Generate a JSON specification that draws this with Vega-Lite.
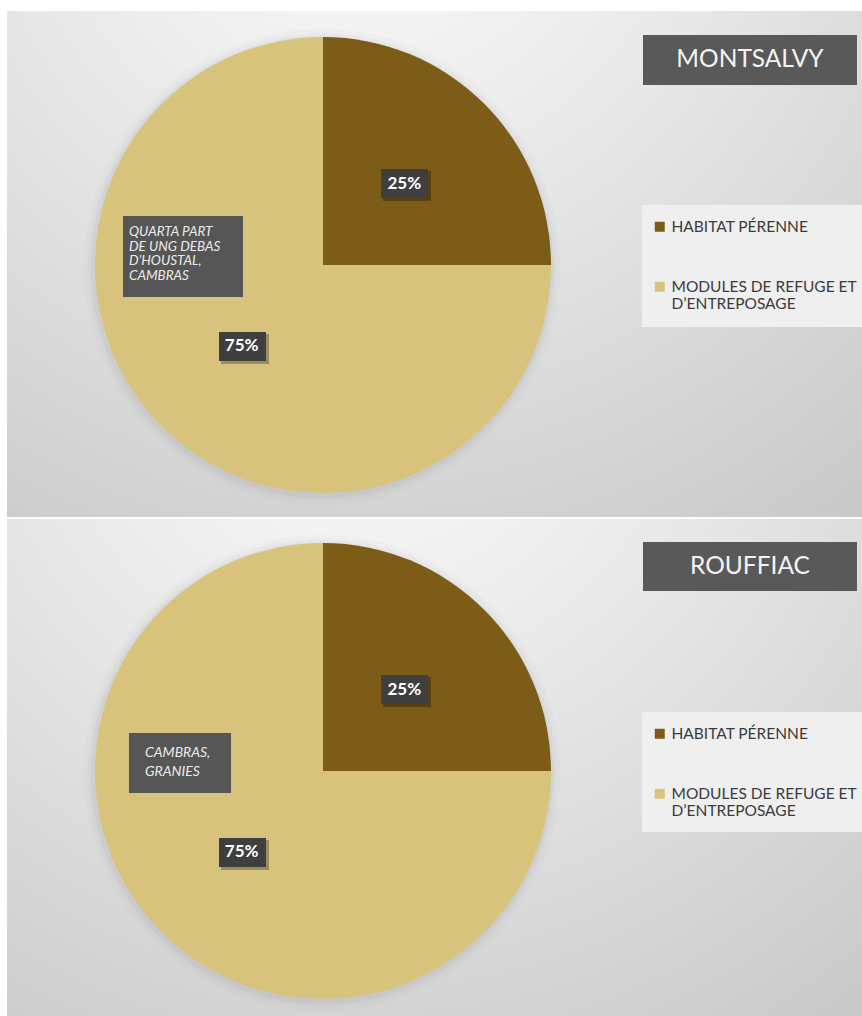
{
  "$schema": "https://vega.github.io/schema/vega-lite/v6.json",
  "background": "white",
  "padding": {"left": 7, "top": 11, "right": 0, "bottom": 0},
  "spacing": 2,
  "config": {
    "view": {"stroke": null},
    "axis": {"disable": true},
    "font": "Lato"
  },
  "datasets": {
    "parts": [
      {"site": "MONTSALVY", "categorie": "HABITAT PÉRENNE", "part": 0.25},
      {"site": "MONTSALVY", "categorie": "MODULES DE REFUGE ET D’ENTREPOSAGE", "part": 0.75},
      {"site": "ROUFFIAC", "categorie": "HABITAT PÉRENNE", "part": 0.25},
      {"site": "ROUFFIAC", "categorie": "MODULES DE REFUGE ET D’ENTREPOSAGE", "part": 0.75}
    ]
  },
  "resolve": {
    "scale": {"x": "independent", "y": "independent", "color": "independent", "theta": "independent"},
    "legend": {"color": "independent"}
  },
  "vconcat": [
    {
      "width": 855,
      "height": 506,
      "layer": [
        {
          "data": {"values": [{}]},
          "mark": {"type": "rect", "color": {"gradient": "radial", "x1": 0.42, "y1": 0.02, "x2": 0.42, "y2": 0.02, "r1": 0, "r2": 1.0, "stops": [{"offset": 0, "color": "#fdfdfd"}, {"offset": 0.45, "color": "#e6e6e6"}, {"offset": 1, "color": "#c6c6c6"}]}},
          "encoding": {
            "x": {"datum": 0, "type": "quantitative", "scale": {"domain": [0, 855], "nice": false, "zero": false}, "axis": null},
            "x2": {"datum": 855},
            "y": {"datum": 0, "type": "quantitative", "scale": {"domain": [0, 506], "nice": false, "zero": false, "reverse": true}, "axis": null},
            "y2": {"datum": 506}
          }
        },
        {
          "data": {"values": [{}]},
          "mark": {"type": "arc", "theta": 0, "theta2": 6.2832, "outerRadius": 238, "color": "#80808f", "opacity": 0.03},
          "encoding": {
            "x": {"datum": 315, "type": "quantitative", "scale": {"domain": [0, 855], "nice": false, "zero": false}, "axis": null},
            "y": {"datum": 256, "type": "quantitative", "scale": {"domain": [0, 506], "nice": false, "zero": false, "reverse": true}, "axis": null}
          }
        },
        {
          "data": {"values": [{}]},
          "mark": {"type": "arc", "theta": 0, "theta2": 6.2832, "outerRadius": 234, "color": "#80808f", "opacity": 0.05},
          "encoding": {
            "x": {"datum": 315, "type": "quantitative", "scale": {"domain": [0, 855], "nice": false, "zero": false}, "axis": null},
            "y": {"datum": 256, "type": "quantitative", "scale": {"domain": [0, 506], "nice": false, "zero": false, "reverse": true}, "axis": null}
          }
        },
        {
          "data": {"values": [{}]},
          "mark": {"type": "arc", "theta": 0, "theta2": 6.2832, "outerRadius": 231, "color": "#80808f", "opacity": 0.08},
          "encoding": {
            "x": {"datum": 315, "type": "quantitative", "scale": {"domain": [0, 855], "nice": false, "zero": false}, "axis": null},
            "y": {"datum": 256, "type": "quantitative", "scale": {"domain": [0, 506], "nice": false, "zero": false, "reverse": true}, "axis": null}
          }
        },
        {
          "data": {"values": [{}]},
          "mark": {"type": "rect", "color": "#efefef"},
          "encoding": {
            "x": {"datum": 635, "type": "quantitative", "scale": {"domain": [0, 855], "nice": false, "zero": false}, "axis": null},
            "x2": {"datum": 855},
            "y": {"datum": 194, "type": "quantitative", "scale": {"domain": [0, 506], "nice": false, "zero": false, "reverse": true}, "axis": null},
            "y2": {"datum": 316}
          }
        },
        {
          "data": {"name": "parts"},
          "transform": [{"filter": "datum.site == 'MONTSALVY'"}],
          "mark": {"type": "arc", "outerRadius": 228, "stroke": null},
          "encoding": {
            "x": {"datum": 316, "type": "quantitative", "scale": {"domain": [0, 855], "nice": false, "zero": false}, "axis": null},
            "y": {"datum": 254, "type": "quantitative", "scale": {"domain": [0, 506], "nice": false, "zero": false, "reverse": true}, "axis": null},
            "theta": {"field": "part", "type": "quantitative", "stack": true},
            "order": {"field": "categorie", "sort": "ascending"},
            "color": {
              "field": "categorie", "type": "nominal",
              "scale": {"domain": ["HABITAT PÉRENNE", "MODULES DE REFUGE ET D’ENTREPOSAGE"], "range": ["#7d5c17", "#d8c37c"]},
              "legend": {
                "orient": "none", "legendX": 635, "legendY": 198, "title": null,
                "padding": 10, "symbolType": "square", "symbolSize": 100,
                "symbolStrokeWidth": 0, "labelFont": "Lato", "labelFontSize": 15.5, "labelColor": "#3b3b3b",
                "rowPadding": 43, "labelOffset": 4, "labelLimit": 300,
                "labelExpr": "datum.label == 'HABITAT PÉRENNE' ? datum.label : ['MODULES DE REFUGE ET', 'D’ENTREPOSAGE']",
                "encode": {"labels": {"update": {"lineHeight": {"value": 21}}}}
              }
            }
          }
        },
        {
          "data": {"values": [{}]},
          "mark": {"type": "rect", "color": "#000000", "opacity": 0.28},
          "encoding": {
            "x": {"datum": 376, "type": "quantitative", "scale": {"domain": [0, 855], "nice": false, "zero": false}, "axis": null},
            "x2": {"datum": 424},
            "y": {"datum": 160, "type": "quantitative", "scale": {"domain": [0, 506], "nice": false, "zero": false, "reverse": true}, "axis": null},
            "y2": {"datum": 190}
          }
        },
        {
          "data": {"values": [{}]},
          "mark": {"type": "rect", "color": "#3f3f3f"},
          "encoding": {
            "x": {"datum": 374, "type": "quantitative", "scale": {"domain": [0, 855], "nice": false, "zero": false}, "axis": null},
            "x2": {"datum": 421},
            "y": {"datum": 158, "type": "quantitative", "scale": {"domain": [0, 506], "nice": false, "zero": false, "reverse": true}, "axis": null},
            "y2": {"datum": 187}
          }
        },
        {
          "data": {"values": [{}]},
          "mark": {"type": "rect", "color": "#000000", "opacity": 0.28},
          "encoding": {
            "x": {"datum": 214, "type": "quantitative", "scale": {"domain": [0, 855], "nice": false, "zero": false}, "axis": null},
            "x2": {"datum": 262},
            "y": {"datum": 323, "type": "quantitative", "scale": {"domain": [0, 506], "nice": false, "zero": false, "reverse": true}, "axis": null},
            "y2": {"datum": 353}
          }
        },
        {
          "data": {"values": [{}]},
          "mark": {"type": "rect", "color": "#3f3f3f"},
          "encoding": {
            "x": {"datum": 212, "type": "quantitative", "scale": {"domain": [0, 855], "nice": false, "zero": false}, "axis": null},
            "x2": {"datum": 259},
            "y": {"datum": 321, "type": "quantitative", "scale": {"domain": [0, 506], "nice": false, "zero": false, "reverse": true}, "axis": null},
            "y2": {"datum": 350}
          }
        },
        {
          "data": {"name": "parts"},
          "transform": [{"filter": "datum.site == 'MONTSALVY'"}],
          "mark": {"type": "text", "radius": 115, "font": "Lato", "fontWeight": "bold", "fontSize": 17, "color": "#ffffff", "baseline": "middle", "align": "center"},
          "encoding": {
            "x": {"datum": 316, "type": "quantitative", "scale": {"domain": [0, 855], "nice": false, "zero": false}, "axis": null},
            "y": {"datum": 254, "type": "quantitative", "scale": {"domain": [0, 506], "nice": false, "zero": false, "reverse": true}, "axis": null},
            "theta": {"field": "part", "type": "quantitative", "stack": true},
            "order": {"field": "categorie", "sort": "ascending"},
            "detail": {"field": "categorie", "type": "nominal"},
            "text": {"field": "part", "type": "quantitative", "format": ".0%"}
          }
        },
        {
          "data": {"values": [{}]},
          "mark": {"type": "rect", "color": "#565656"},
          "encoding": {
            "x": {"datum": 116, "type": "quantitative", "scale": {"domain": [0, 855], "nice": false, "zero": false}, "axis": null},
            "x2": {"datum": 236},
            "y": {"datum": 205, "type": "quantitative", "scale": {"domain": [0, 506], "nice": false, "zero": false, "reverse": true}, "axis": null},
            "y2": {"datum": 286}
          }
        },
        {
          "data": {"values": [{}]},
          "mark": {"type": "text", "text": ["QUARTA PART", "DE UNG DEBAS", "D’HOUSTAL,", "CAMBRAS"], "font": "Lato", "fontStyle": "italic", "fontSize": 13.5, "lineHeight": 14.5, "color": "#ececec", "align": "left", "baseline": "middle"},
          "encoding": {
            "x": {"datum": 122, "type": "quantitative", "scale": {"domain": [0, 855], "nice": false, "zero": false}, "axis": null},
            "y": {"datum": 221, "type": "quantitative", "scale": {"domain": [0, 506], "nice": false, "zero": false, "reverse": true}, "axis": null}
          }
        },
        {
          "data": {"values": [{}]},
          "mark": {"type": "rect", "color": "#595959"},
          "encoding": {
            "x": {"datum": 636, "type": "quantitative", "scale": {"domain": [0, 855], "nice": false, "zero": false}, "axis": null},
            "x2": {"datum": 850},
            "y": {"datum": 24, "type": "quantitative", "scale": {"domain": [0, 506], "nice": false, "zero": false, "reverse": true}, "axis": null},
            "y2": {"datum": 74}
          }
        },
        {
          "data": {"values": [{"site": "MONTSALVY"}]},
          "mark": {"type": "text", "font": "Lato", "fontSize": 24.5, "color": "#f4f4f4", "align": "center", "baseline": "middle"},
          "encoding": {
            "x": {"datum": 743, "type": "quantitative", "scale": {"domain": [0, 855], "nice": false, "zero": false}, "axis": null},
            "y": {"datum": 49, "type": "quantitative", "scale": {"domain": [0, 506], "nice": false, "zero": false, "reverse": true}, "axis": null},
            "text": {"field": "site", "type": "nominal"}
          }
        }
      ]
    },
    {
      "width": 855,
      "height": 497,
      "layer": [
        {
          "data": {"values": [{}]},
          "mark": {"type": "rect", "color": {"gradient": "radial", "x1": 0.42, "y1": 0.02, "x2": 0.42, "y2": 0.02, "r1": 0, "r2": 1.0, "stops": [{"offset": 0, "color": "#fdfdfd"}, {"offset": 0.45, "color": "#e6e6e6"}, {"offset": 1, "color": "#c6c6c6"}]}},
          "encoding": {
            "x": {"datum": 0, "type": "quantitative", "scale": {"domain": [0, 855], "nice": false, "zero": false}, "axis": null},
            "x2": {"datum": 855},
            "y": {"datum": 0, "type": "quantitative", "scale": {"domain": [0, 497], "nice": false, "zero": false, "reverse": true}, "axis": null},
            "y2": {"datum": 497}
          }
        },
        {
          "data": {"values": [{}]},
          "mark": {"type": "arc", "theta": 0, "theta2": 6.2832, "outerRadius": 238, "color": "#80808f", "opacity": 0.03},
          "encoding": {
            "x": {"datum": 315, "type": "quantitative", "scale": {"domain": [0, 855], "nice": false, "zero": false}, "axis": null},
            "y": {"datum": 254, "type": "quantitative", "scale": {"domain": [0, 497], "nice": false, "zero": false, "reverse": true}, "axis": null}
          }
        },
        {
          "data": {"values": [{}]},
          "mark": {"type": "arc", "theta": 0, "theta2": 6.2832, "outerRadius": 234, "color": "#80808f", "opacity": 0.05},
          "encoding": {
            "x": {"datum": 315, "type": "quantitative", "scale": {"domain": [0, 855], "nice": false, "zero": false}, "axis": null},
            "y": {"datum": 254, "type": "quantitative", "scale": {"domain": [0, 497], "nice": false, "zero": false, "reverse": true}, "axis": null}
          }
        },
        {
          "data": {"values": [{}]},
          "mark": {"type": "arc", "theta": 0, "theta2": 6.2832, "outerRadius": 231, "color": "#80808f", "opacity": 0.08},
          "encoding": {
            "x": {"datum": 315, "type": "quantitative", "scale": {"domain": [0, 855], "nice": false, "zero": false}, "axis": null},
            "y": {"datum": 254, "type": "quantitative", "scale": {"domain": [0, 497], "nice": false, "zero": false, "reverse": true}, "axis": null}
          }
        },
        {
          "data": {"values": [{}]},
          "mark": {"type": "rect", "color": "#efefef"},
          "encoding": {
            "x": {"datum": 635, "type": "quantitative", "scale": {"domain": [0, 855], "nice": false, "zero": false}, "axis": null},
            "x2": {"datum": 855},
            "y": {"datum": 193, "type": "quantitative", "scale": {"domain": [0, 497], "nice": false, "zero": false, "reverse": true}, "axis": null},
            "y2": {"datum": 313}
          }
        },
        {
          "data": {"name": "parts"},
          "transform": [{"filter": "datum.site == 'ROUFFIAC'"}],
          "mark": {"type": "arc", "outerRadius": 228, "stroke": null},
          "encoding": {
            "x": {"datum": 316, "type": "quantitative", "scale": {"domain": [0, 855], "nice": false, "zero": false}, "axis": null},
            "y": {"datum": 252, "type": "quantitative", "scale": {"domain": [0, 497], "nice": false, "zero": false, "reverse": true}, "axis": null},
            "theta": {"field": "part", "type": "quantitative", "stack": true},
            "order": {"field": "categorie", "sort": "ascending"},
            "color": {
              "field": "categorie", "type": "nominal",
              "scale": {"domain": ["HABITAT PÉRENNE", "MODULES DE REFUGE ET D’ENTREPOSAGE"], "range": ["#7d5c17", "#d8c37c"]},
              "legend": {
                "orient": "none", "legendX": 635, "legendY": 197, "title": null,
                "padding": 10, "symbolType": "square", "symbolSize": 100,
                "symbolStrokeWidth": 0, "labelFont": "Lato", "labelFontSize": 15.5, "labelColor": "#3b3b3b",
                "rowPadding": 43, "labelOffset": 4, "labelLimit": 300,
                "labelExpr": "datum.label == 'HABITAT PÉRENNE' ? datum.label : ['MODULES DE REFUGE ET', 'D’ENTREPOSAGE']",
                "encode": {"labels": {"update": {"lineHeight": {"value": 21}}}}
              }
            }
          }
        },
        {
          "data": {"values": [{}]},
          "mark": {"type": "rect", "color": "#000000", "opacity": 0.28},
          "encoding": {
            "x": {"datum": 376, "type": "quantitative", "scale": {"domain": [0, 855], "nice": false, "zero": false}, "axis": null},
            "x2": {"datum": 424},
            "y": {"datum": 158, "type": "quantitative", "scale": {"domain": [0, 497], "nice": false, "zero": false, "reverse": true}, "axis": null},
            "y2": {"datum": 188}
          }
        },
        {
          "data": {"values": [{}]},
          "mark": {"type": "rect", "color": "#3f3f3f"},
          "encoding": {
            "x": {"datum": 374, "type": "quantitative", "scale": {"domain": [0, 855], "nice": false, "zero": false}, "axis": null},
            "x2": {"datum": 421},
            "y": {"datum": 156, "type": "quantitative", "scale": {"domain": [0, 497], "nice": false, "zero": false, "reverse": true}, "axis": null},
            "y2": {"datum": 185}
          }
        },
        {
          "data": {"values": [{}]},
          "mark": {"type": "rect", "color": "#000000", "opacity": 0.28},
          "encoding": {
            "x": {"datum": 214, "type": "quantitative", "scale": {"domain": [0, 855], "nice": false, "zero": false}, "axis": null},
            "x2": {"datum": 262},
            "y": {"datum": 321, "type": "quantitative", "scale": {"domain": [0, 497], "nice": false, "zero": false, "reverse": true}, "axis": null},
            "y2": {"datum": 351}
          }
        },
        {
          "data": {"values": [{}]},
          "mark": {"type": "rect", "color": "#3f3f3f"},
          "encoding": {
            "x": {"datum": 212, "type": "quantitative", "scale": {"domain": [0, 855], "nice": false, "zero": false}, "axis": null},
            "x2": {"datum": 259},
            "y": {"datum": 319, "type": "quantitative", "scale": {"domain": [0, 497], "nice": false, "zero": false, "reverse": true}, "axis": null},
            "y2": {"datum": 348}
          }
        },
        {
          "data": {"name": "parts"},
          "transform": [{"filter": "datum.site == 'ROUFFIAC'"}],
          "mark": {"type": "text", "radius": 115, "font": "Lato", "fontWeight": "bold", "fontSize": 17, "color": "#ffffff", "baseline": "middle", "align": "center"},
          "encoding": {
            "x": {"datum": 316, "type": "quantitative", "scale": {"domain": [0, 855], "nice": false, "zero": false}, "axis": null},
            "y": {"datum": 252, "type": "quantitative", "scale": {"domain": [0, 497], "nice": false, "zero": false, "reverse": true}, "axis": null},
            "theta": {"field": "part", "type": "quantitative", "stack": true},
            "order": {"field": "categorie", "sort": "ascending"},
            "detail": {"field": "categorie", "type": "nominal"},
            "text": {"field": "part", "type": "quantitative", "format": ".0%"}
          }
        },
        {
          "data": {"values": [{}]},
          "mark": {"type": "rect", "color": "#565656"},
          "encoding": {
            "x": {"datum": 122, "type": "quantitative", "scale": {"domain": [0, 855], "nice": false, "zero": false}, "axis": null},
            "x2": {"datum": 224},
            "y": {"datum": 214, "type": "quantitative", "scale": {"domain": [0, 497], "nice": false, "zero": false, "reverse": true}, "axis": null},
            "y2": {"datum": 274}
          }
        },
        {
          "data": {"values": [{}]},
          "mark": {"type": "text", "text": ["CAMBRAS,", "GRANIES"], "font": "Lato", "fontStyle": "italic", "fontSize": 14, "lineHeight": 19, "color": "#ececec", "align": "left", "baseline": "middle"},
          "encoding": {
            "x": {"datum": 138, "type": "quantitative", "scale": {"domain": [0, 855], "nice": false, "zero": false}, "axis": null},
            "y": {"datum": 234, "type": "quantitative", "scale": {"domain": [0, 497], "nice": false, "zero": false, "reverse": true}, "axis": null}
          }
        },
        {
          "data": {"values": [{}]},
          "mark": {"type": "rect", "color": "#595959"},
          "encoding": {
            "x": {"datum": 636, "type": "quantitative", "scale": {"domain": [0, 855], "nice": false, "zero": false}, "axis": null},
            "x2": {"datum": 850},
            "y": {"datum": 23, "type": "quantitative", "scale": {"domain": [0, 497], "nice": false, "zero": false, "reverse": true}, "axis": null},
            "y2": {"datum": 72}
          }
        },
        {
          "data": {"values": [{"site": "ROUFFIAC"}]},
          "mark": {"type": "text", "font": "Lato", "fontSize": 24.5, "color": "#f4f4f4", "align": "center", "baseline": "middle"},
          "encoding": {
            "x": {"datum": 743, "type": "quantitative", "scale": {"domain": [0, 855], "nice": false, "zero": false}, "axis": null},
            "y": {"datum": 47.5, "type": "quantitative", "scale": {"domain": [0, 497], "nice": false, "zero": false, "reverse": true}, "axis": null},
            "text": {"field": "site", "type": "nominal"}
          }
        }
      ]
    }
  ]
}
